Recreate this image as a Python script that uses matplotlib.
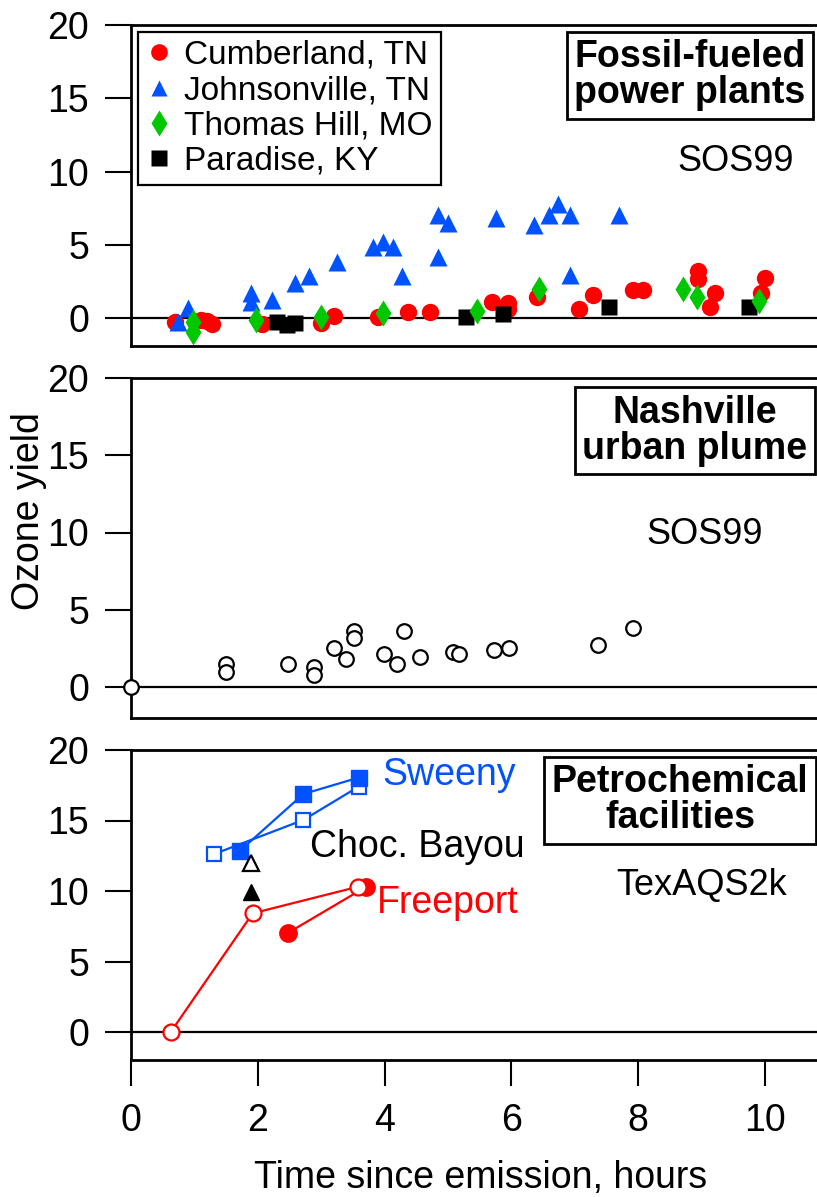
import numpy as np
import matplotlib
matplotlib.use("Agg")
import matplotlib.pyplot as plt
from matplotlib.lines import Line2D

plt.rcParams['font.family'] = ['Liberation Sans', 'DejaVu Sans']

RED = "#ff0000"
BLUE = "#0052ff"
GREEN = "#00c800"

# --- top panel: fossil-fueled power plants (SOS99) ---
cumb_x = [0.69, 1.11, 1.2, 1.27, 2.06, 3.0, 3.2, 3.9, 4.37, 4.71, 5.69, 5.95, 5.95,
          6.4, 7.06, 7.28, 7.92, 8.08, 8.95, 8.95, 9.21, 9.13, 10.0, 9.93]
cumb_y = [-0.25, -0.14, -0.2, -0.4, -0.4, -0.35, 0.14, 0.1, 0.43, 0.43, 1.11, 1.0, 0.6,
          1.45, 0.61, 1.57, 1.91, 1.91, 3.23, 2.65, 1.73, 0.77, 2.7, 1.73]
john_x = [0.74, 0.9, 1.9, 1.9, 2.23, 2.58, 2.81, 3.25, 3.82, 3.98, 4.13, 4.28, 4.85,
          4.85, 5.0, 5.76, 6.36, 6.6, 6.74, 6.92, 6.92, 7.69]
john_y = [-0.25, 0.66, 1.7, 1.1, 1.23, 2.37, 2.87, 3.85, 4.87, 5.22, 4.87, 2.87, 4.19,
          7.03, 6.5, 6.85, 6.35, 7.03, 7.78, 7.03, 2.93, 7.03]
thom_x = [0.98, 0.98, 1.97, 3.0, 3.98, 5.45, 6.44, 8.7, 8.93, 9.91]
thom_y = [-0.25, -0.93, -0.14, 0.05, 0.36, 0.48, 1.96, 1.96, 1.46, 1.18]
para_x = [2.3, 2.46, 2.59, 5.29, 5.86, 7.54, 9.75]
para_y = [-0.25, -0.48, -0.36, 0.09, 0.25, 0.73, 0.73]

# --- middle panel: Nashville urban plume (SOS99) ---
nash_x = [0, 1.5, 1.5, 2.48, 2.89, 2.89, 3.2, 3.39, 3.51, 3.51, 3.99, 4.19, 4.3,
          4.56, 5.08, 5.18, 5.73, 5.97, 7.36, 7.92]
nash_y = [0, 1.49, 0.99, 1.47, 1.31, 0.78, 2.55, 1.79, 3.62, 3.15, 2.11, 1.47, 3.62,
          1.92, 2.24, 2.11, 2.39, 2.55, 2.72, 3.8]

# --- bottom panel: petrochemical facilities (TexAQS2k) ---
sween_fill_x = [1.72, 2.72, 3.59]
sween_fill_y = [12.86, 16.88, 18.04]
sween_open_x = [1.31, 2.72, 3.59]
sween_open_y = [12.62, 15.04, 17.4]
choc_open = (1.9, 11.96)
choc_fill = (1.9, 9.95)
free_open_x = [0.63, 1.92, 3.58]
free_open_y = [0.02, 8.42, 10.3]
free_fill_x = [2.48, 3.71]
free_fill_y = [7.04, 10.3]

yticks = [0, 5, 10, 15, 20]
xticks = [0, 2, 4, 6, 8, 10]

W, H = 817, 1197
fig = plt.figure(figsize=(W / 100, H / 100), dpi=100)


def panel(top, zero, bottom):
    ax = fig.add_axes([131 / W, 1 - bottom / H, (W - 131) / W, (bottom - top) / H])
    ppu = (zero - top) / 20.0
    ax.set_ylim(-(bottom - zero) / ppu, 20)
    ax.set_xlim(0, (W - 131) / 63.4)
    ax.spines['right'].set_visible(False)
    for s in ['top', 'left', 'bottom']:
        ax.spines[s].set_linewidth(2)
    ax.set_yticks(yticks)
    ax.tick_params(axis='y', direction='out', length=19, width=1.5, labelsize=27, pad=11)
    ax.set_xticks([])
    ax.axhline(0, color='k', lw=1.6, zorder=1)
    return ax


ax1 = panel(25, 318, 346)
ax2 = panel(378, 687, 718)
ax3 = panel(750, 1032, 1060)

ax1.plot(cumb_x, cumb_y, 'o', color=RED, ms=12.5, mec='none', zorder=3)
ax1.plot(john_x, john_y, '^', color=BLUE, ms=13.5, mec='none', zorder=4)
ax1.plot(para_x, para_y, 's', color='k', ms=12, mec='none', zorder=5)
ax1.plot(thom_x, thom_y, 'd', color=GREEN, ms=13, mec='none', zorder=6)

handles = [
    Line2D([], [], ls='none', marker='o', color=RED, ms=12, mec='none', label='Cumberland, TN'),
    Line2D([], [], ls='none', marker='^', color=BLUE, ms=12, mec='none', label='Johnsonville, TN'),
    Line2D([], [], ls='none', marker='d', color=GREEN, ms=13, mec='none', label='Thomas Hill, MO'),
    Line2D([], [], ls='none', marker='s', color='k', ms=11, mec='none', label='Paradise, KY'),
]
leg = ax1.legend(handles=handles, loc='upper left', fontsize=24, frameon=True, fancybox=False,
                 framealpha=1, edgecolor='k', borderaxespad=0.2, borderpad=0.25,
                 handlelength=0.8, handletextpad=0.35, labelspacing=0.13)
leg.get_frame().set_linewidth(1.6)
ax1.text(9.53, 10.65, 'SOS99', fontsize=26, ha='center', va='center')

ax2.plot(nash_x, nash_y, 'o', mfc='white', mec='k', mew=1.6, ms=10.5, ls='none',
         zorder=4, clip_on=False)
ax2.text(9.05, 9.84, 'SOS99', fontsize=26, ha='center', va='center')

ax3.plot(sween_open_x, sween_open_y, '-s', color=BLUE, mfc='white', mec=BLUE, mew=1.6,
         ms=10.5, lw=1.6, zorder=3)
ax3.plot(sween_fill_x, sween_fill_y, '-s', color=BLUE, ms=12, lw=1.6, zorder=4)
ax3.plot(*choc_open, '^', mfc='white', mec='k', mew=1.6, ms=11, zorder=4)
ax3.plot(*choc_fill, '^', color='k', ms=12, zorder=4)
ax3.plot(free_fill_x, free_fill_y, '-o', color=RED, ms=12.5, lw=1.6, zorder=3)
ax3.plot(free_open_x, free_open_y, '-o', color=RED, mfc='white', mec=RED, mew=1.6,
         ms=11.5, lw=1.6, zorder=4, clip_on=False)
ax3.text(3.96, 18.2, 'Sweeny', color=BLUE, fontsize=27, ha='left', va='center')
ax3.text(2.82, 13.1, 'Choc. Bayou', color='k', fontsize=27, ha='left', va='center')
ax3.text(3.88, 9.15, 'Freeport', color=RED, fontsize=27, ha='left', va='center')
ax3.text(9.0, 10.4, 'TexAQS2k', fontsize=26, ha='center', va='center')

ax3.set_xticks(xticks)
ax3.tick_params(axis='x', direction='out', length=19, width=1.5, labelsize=27, pad=12)

box = dict(boxstyle='square,pad=0.2', fc='white', ec='k', lw=2)
fig.text(690 / W, 1 - 75 / H, 'Fossil-fueled\npower plants', fontsize=27, weight='bold',
         ha='center', va='center', linespacing=1.0, bbox=box)
fig.text(695 / W, 1 - 431 / H, 'Nashville\nurban plume', fontsize=27, weight='bold',
         ha='center', va='center', linespacing=1.0, bbox=box)
fig.text(680 / W, 1 - 800 / H, 'Petrochemical\nfacilities', fontsize=27, weight='bold',
         ha='center', va='center', linespacing=1.0, bbox=box)

fig.text(29 / W, 1 - 511 / H, 'Ozone yield', fontsize=27, rotation=90, ha='center', va='center')
fig.text(481 / W, 1 - 1178 / H, 'Time since emission, hours', fontsize=27, ha='center', va='center')

fig.savefig('out.png', dpi=100)
